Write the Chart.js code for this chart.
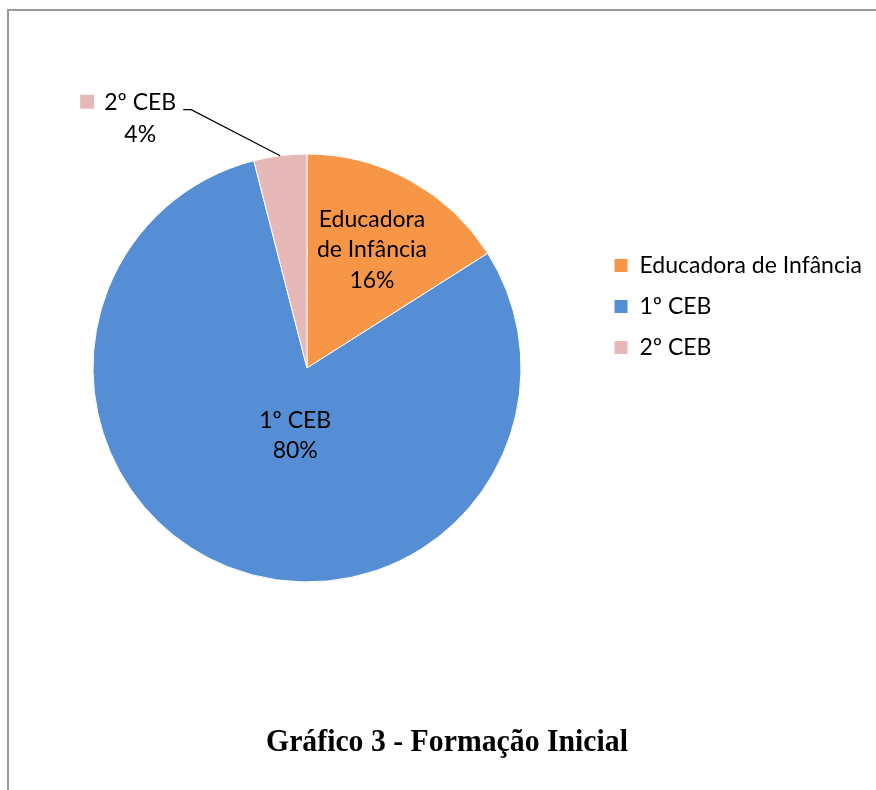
<!DOCTYPE html>
<html>
<head>
<meta charset="utf-8">
<title>Gráfico 3 - Formação Inicial</title>
<script src="https://cdn.jsdelivr.net/npm/chart.js@4.4.0/dist/chart.umd.min.js"></script>
<style>
  html, body { margin: 0; padding: 0; background: #fff; }
  body { width: 876px; height: 790px; position: relative; overflow: hidden; }
  #frame { position: absolute; left: 7px; top: 9px; right: -2px; bottom: -2px; border-left: 2px solid #9a9a9a; border-top: 2px solid #9a9a9a; }
  #chart { position: absolute; left: 0; top: 0; }
  #caption { position: absolute; left: 9px; width: 876px; top: 722px; text-align: center;
    font-family: "Liberation Serif", "DejaVu Serif", serif; font-weight: bold; font-size: 32px;
    color: #000; transform: scaleX(0.93); white-space: nowrap; }
</style>
</head>
<body>
<div id="frame"></div>
<canvas id="chart" width="876" height="790"></canvas>
<div id="caption">Gráfico 3 - Formação Inicial</div>
<script>
// data
var categories = ['Educadora de Infância', '1º CEB', '2º CEB'];
var values = [16, 80, 4];
var labelLines = [['Educadora', 'de Infância'], ['1º CEB'], ['2º CEB']];
var colors = ['#F79646', '#558ED5', '#E6B9B8'];

var FONT = '"Lato", "Noto Sans", sans-serif';
var fontSize = 23;
var legendPad = 18;
var boxW = 14;

// legend width, so the pie ends up where it should
var mctx = document.createElement('canvas').getContext('2d');
mctx.font = fontSize + 'px ' + FONT;
var textW = 0;
categories.forEach(function (c) { textW = Math.max(textW, mctx.measureText(c).width); });
var legendW = legendPad + boxW + fontSize / 2 + textW + 10;
var legendLeft = 596;
var padRight = 876 - legendLeft - legendW;

var sliceLabels = {
  id: 'sliceLabels',
  afterDatasetsDraw: function (chart, args, opts) {
    var ctx = chart.ctx;
    var arcs = chart.getDatasetMeta(0).data;
    ctx.save();
    ctx.font = fontSize + 'px ' + FONT;
    ctx.fillStyle = '#000';
    arcs.forEach(function (arc, i) {
      var p = arc.getProps(['x', 'y', 'startAngle', 'endAngle', 'outerRadius'], true);
      var mid = (p.startAngle + p.endAngle) / 2;
      var lines = labelLines[i].concat(values[i] + '%');
      var pos = opts.positions[i];
      if (pos.outside) {
        var ax = p.x + Math.cos(mid) * p.outerRadius;
        var ay = p.y + Math.sin(mid) * p.outerRadius;
        var ex = ax + pos.elbow[0], ey = ay + pos.elbow[1];
        var tx = ex - pos.tail;
        ctx.strokeStyle = '#000';
        ctx.lineWidth = 1.2;
        ctx.beginPath();
        ctx.moveTo(ax, ay);
        ctx.lineTo(ex, ey);
        ctx.lineTo(tx, ey);
        ctx.stroke();
        var right = tx - 7;
        var w = ctx.measureText(lines[0]).width;
        var cx = right - w / 2;
        ctx.textAlign = 'center';
        ctx.textBaseline = 'alphabetic';
        ctx.fillText(lines[0], cx, ey);
        ctx.fillText(lines[1], cx, ey + 32);
        ctx.fillStyle = colors[i];
        ctx.fillRect(right - w - 24, ey - 15, 14, 14);
        ctx.fillStyle = '#000';
      } else {
        var lx = p.x + Math.cos(mid) * p.outerRadius * pos.r + (pos.dx || 0);
        var ly = p.y + Math.sin(mid) * p.outerRadius * pos.r + (pos.dy || 0);
        ctx.textAlign = 'center';
        ctx.textBaseline = 'middle';
        lines.forEach(function (t, k) {
          ctx.fillText(t, lx, ly + (k - (lines.length - 1) / 2) * 30.5);
        });
      }
    });
    ctx.restore();
  }
};

new Chart(document.getElementById('chart'), {
  type: 'pie',
  data: {
    labels: categories,
    datasets: [{
      data: values,
      backgroundColor: colors,
      borderColor: '#fff',
      borderWidth: 1
    }]
  },
  options: {
    responsive: false,
    animation: false,
    layout: { padding: { top: 30.5, bottom: 207.5, left: 18, right: padRight } },
    plugins: {
      tooltip: { enabled: false },
      legend: {
        position: 'right',
        labels: {
          boxWidth: boxW,
          boxHeight: boxW,
          padding: legendPad,
          color: '#000',
          font: { family: FONT, size: fontSize }
        }
      },
      subtitle: {
        display: true,
        text: '',
        position: 'top',
        fullSize: false,
        font: { size: 10, lineHeight: 1 },
        padding: { top: 113, bottom: 0 }
      },
      sliceLabels: {
        positions: [
          { r: 0.63 },
          { r: 0.34, dx: 15 },
          { outside: true, elbow: [-89, -46], tail: 8 }
        ]
      }
    }
  },
  plugins: [sliceLabels]
});
</script>
</body>
</html>
